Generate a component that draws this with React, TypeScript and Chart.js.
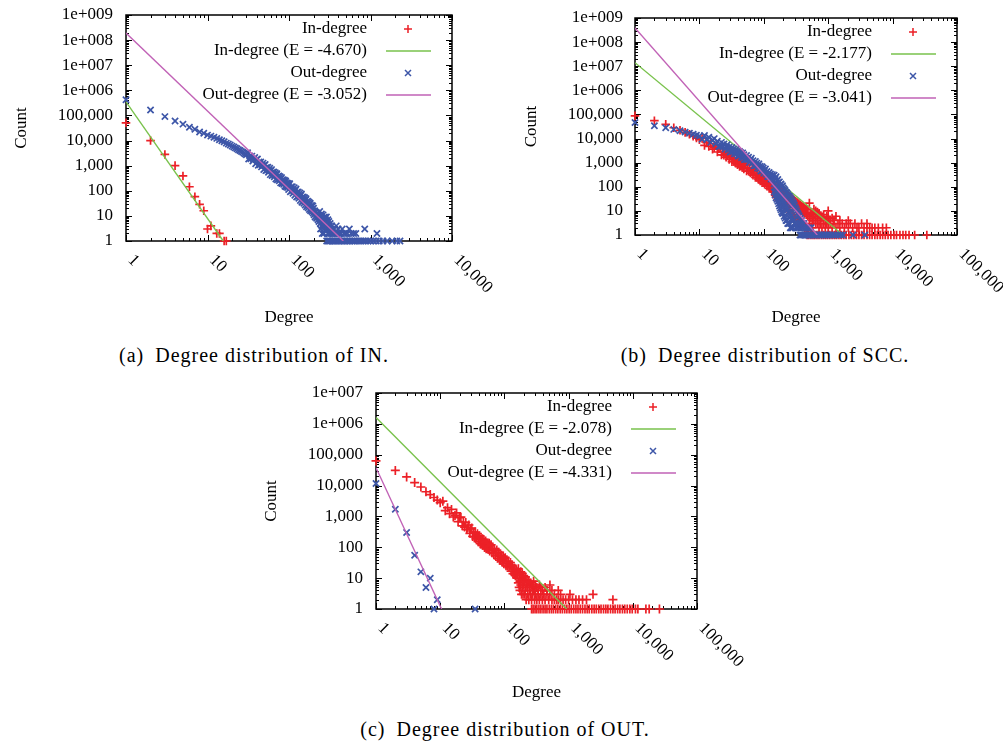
import React, { useEffect, useRef } from 'react';
import { Chart, registerables } from 'chart.js';

Chart.register(...registerables);

const SERIF = '"Liberation Serif", "Times New Roman", Times, serif';
const FS = 17;
const RED = '#ec2027';
const BLUE = '#3d56a8';
const GREEN = '#79c24c';
const PURPLE = '#c162b6';

// ---------- tick labels ----------
const yLabels9 = ['1', '10', '100', '1,000', '10,000', '100,000', '1e+006', '1e+007', '1e+008', '1e+009'];
const yLabels7 = ['1', '10', '100', '1,000', '10,000', '100,000', '1e+006', '1e+007'];
const xLabels4 = ['1', '10', '100', '1,000', '10,000'];
const xLabels5 = ['1', '10', '100', '1,000', '10,000', '100,000'];
const seriesLabels = ['In-degree', 'Out-degree'];

// ================= (a) IN =================  [degree, count]
const aIn = [[1, 51000], [2, 10000], [3, 2800], [4, 1000], [5, 390], [6, 145], [7, 58], [8, 29], [9, 16], [10, 3], [11, 4], [13, 2], [14, 2], [16, 1], [17, 1]];
const aInFit = [[1, 350000], [15.6, 1]];
const aInExp = '-4.670';

const aOutHead = [[1, 420000], [2, 165000], [3, 90000], [4, 60000], [5, 45000], [6, 34000], [7, 28000], [8, 22000], [9, 19500], [10, 16500], [11, 15000], [12, 13500], [13, 12200], [14, 10800], [15, 9800], [16, 8900], [17, 7900], [18, 7300], [19, 6600], [20, 6000], [21, 5500], [22, 5100], [23, 4700], [24, 4300], [25, 4000], [26, 3700], [27, 3450], [28, 3150], [29, 2950], [30, 2700]];
const aOutBand = [[31, 3280], [32, 1850], [33, 2445], [34, 1880], [35, 2400], [36, 1525], [37, 1760], [38, 2130], [39, 1185], [40, 1725],
  [41, 1842], [42, 1046], [43, 1398], [44, 1085], [45, 1397], [46, 893], [47, 1037], [48, 1265], [49, 707], [50, 1035],
  [51, 1112], [52, 634], [53, 850], [54, 663], [55, 858], [56, 549], [57, 640], [58, 783], [59, 439], [60, 644],
  [61, 698], [62, 402], [63, 546], [64, 429], [65, 559], [66, 362], [67, 425], [68, 524], [69, 296], [70, 437],
  [71, 476], [72, 275], [73, 373], [74, 294], [75, 386], [76, 250], [77, 294], [78, 364], [79, 206], [80, 305],
  [81, 334], [82, 194], [83, 265], [84, 210], [85, 276], [86, 180], [87, 213], [88, 265], [89, 151], [90, 224],
  [91, 246], [92, 143], [93, 196], [94, 156], [95, 205], [96, 134], [97, 158], [98, 197], [99, 112], [100, 167],
  [102, 192], [104, 91], [106, 143], [108, 99], [110, 146], [112, 80], [114, 101], [116, 131], [118, 66], [120, 106],
  [122, 118], [124, 56], [126, 87], [128, 61], [130, 90], [132, 50], [134, 63], [136, 81], [138, 41], [140, 66],
  [142, 74], [144, 35], [146, 55], [148, 39], [150, 57], [152, 32], [154, 41], [156, 53], [158, 27], [160, 43],
  [162, 48], [164, 23], [166, 36], [168, 26], [170, 38], [172, 21], [174, 27], [176, 35], [178, 18], [180, 29],
  [182, 32], [184, 16], [186, 25], [188, 18], [190, 26], [192, 15], [194, 19], [196, 25], [198, 13], [200, 20]];
const aOutTail = [[203, 11], [206, 16], [209, 9], [212, 14], [215, 10], [218, 8], [221, 13], [224, 9], [227, 7], [230, 11], [233, 6], [236, 9], [238, 15], [239, 8], [242, 5], [244, 3], [245, 10], [248, 7], [250, 12], [251, 6], [254, 4], [256, 2], [257, 8], [260, 5], [262, 11], [263, 7], [266, 3], [268, 2], [269, 6], [272, 9], [275, 4], [276, 8], [278, 5], [281, 7], [284, 3], [287, 4], [288, 9], [290, 6], [293, 3], [296, 5], [299, 2], [300, 7], [302, 4], [305, 3], [308, 6], [311, 2], [314, 4], [317, 3], [320, 5], [325, 2], [330, 3], [335, 4], [340, 2], [345, 3], [350, 2], [360, 3], [370, 2], [380, 4], [390, 2], [400, 3], [410, 2], [430, 2], [450, 3], [470, 2], [490, 2], [520, 2], [550, 3], [580, 2], [620, 2], [660, 2], [850, 3], [1200, 2]];
const aOutOnes = [290, 300, 310, 320, 335, 350, 365, 380, 395, 410, 430, 450, 470, 490, 510, 535, 560, 590, 620, 650, 690, 730, 770, 820, 870, 930, 1000, 1080, 1170, 1280, 1420, 1600, 1850, 2100, 2300];
const aOutFit = [[1, 190000000], [464, 1]];
const aOutExp = '-3.052';

// ================= (b) SCC =================
const bInHead = [[1, 87000], [2, 55000], [3, 39000], [4, 28000], [5, 22000], [6, 18000], [7, 15000], [8, 12500], [9, 10500], [10, 9000]];
const bInBand = [[11, 10190], [12, 5180], [13, 6765], [14, 4696], [15, 6250], [16, 3644], [17, 4175], [18, 4998], [19, 2775], [20, 3795],
  [21, 3947], [22, 2103], [23, 2858], [24, 2054], [25, 2816], [26, 1686], [27, 1975], [28, 2413], [29, 1363], [30, 1898],
  [31, 2027], [32, 1106], [33, 1537], [34, 1128], [35, 1578], [36, 962], [37, 1146], [38, 1422], [39, 815], [40, 1150],
  [41, 1247], [42, 690], [43, 972], [44, 723], [45, 1023], [46, 631], [47, 760], [48, 954], [49, 552], [50, 787],
  [52, 832], [54, 450], [56, 617], [58, 446], [60, 616], [62, 371], [64, 437], [66, 537], [68, 305], [70, 426],
  [72, 452], [74, 246], [76, 340], [78, 248], [80, 346], [82, 210], [84, 249], [86, 307], [88, 176], [90, 246],
  [92, 265], [94, 146], [96, 205], [98, 151], [100, 213], [103, 128], [106, 151], [109, 185], [112, 105], [115, 146],
  [118, 157], [121, 86], [124, 120], [127, 88], [130, 124], [133, 76], [136, 90], [140, 110]];
const bInCloud = [[145, 60], [145, 150], [150, 45], [150, 110], [155, 70], [155, 38], [160, 65], [160, 120], [160, 35], [170, 50], [170, 95], [170, 28], [180, 45], [180, 80], [180, 24], [190, 38], [190, 70], [190, 20], [200, 40], [200, 65], [200, 18], [212, 30], [212, 55], [212, 15], [225, 31], [225, 50], [225, 13], [238, 25], [238, 45], [238, 11], [250, 22], [250, 40], [250, 10], [265, 20], [265, 35], [265, 8], [280, 18], [280, 32], [280, 7], [295, 16], [295, 28], [295, 6], [310, 15], [310, 25], [310, 5], [330, 13], [330, 22], [330, 4], [350, 12], [350, 20], [350, 4], [370, 11], [370, 18], [370, 3], [390, 10], [390, 16], [390, 3], [410, 9], [410, 14], [410, 3], [430, 8], [430, 13], [430, 2], [455, 7], [455, 12], [455, 2], [480, 6], [480, 11], [480, 2], [510, 6], [510, 21], [510, 3], [540, 5], [540, 9], [540, 2], [570, 4], [570, 8], [570, 2], [600, 4], [600, 7], [600, 12], [640, 3], [640, 6], [640, 10], [680, 3], [680, 5], [680, 9], [720, 2], [720, 4], [720, 8], [760, 3], [760, 6], [800, 2], [800, 5], [850, 3], [850, 7], [900, 2], [900, 4], [950, 3], [950, 6], [1000, 2], [1000, 5], [1000, 10], [1070, 3], [1070, 4], [1150, 2], [1150, 5], [1230, 3], [1230, 4], [1320, 2], [1320, 6], [1420, 3], [1520, 2], [1520, 4], [1650, 3], [1780, 2], [1900, 3], [2050, 2], [2050, 4], [2200, 3], [2400, 2], [2600, 3], [2800, 2], [3000, 2], [3300, 3], [3600, 2], [4000, 2], [4000, 3], [4400, 2], [4800, 2], [5300, 2], [6000, 2], [7000, 2], [8000, 2]];
const bInOnes = [470, 500, 540, 580, 620, 670, 720, 780, 840, 910, 980, 1060, 1150, 1250, 1350, 1470, 1600, 1750, 1900, 2100, 2300, 2500, 2750, 3000, 3300, 3600, 4000, 4400, 4800, 5300, 5800, 6400, 7000, 7700, 8500, 9400, 10500, 11500, 13000, 14500, 16000, 18000, 22000, 34000];
const bInFit = [[1, 14000000], [1700, 1]];
const bInExp = '-2.177';

const bOutHead = [[1, 46000], [2, 34000], [3, 28000], [4, 24000], [5, 21000], [6, 18500], [7, 16500], [8, 15000], [9, 13800], [10, 12700]];
const bOutBand = [[11, 9344], [12, 13525], [13, 9072], [14, 11328], [15, 6942], [16, 8649], [17, 9953], [18, 6078], [19, 7705], [20, 4725],
  [21, 4728], [22, 6950], [23, 4720], [24, 5954], [25, 3669], [26, 4690], [27, 5528], [28, 3446], [29, 4453], [30, 2775],
  [31, 2830], [32, 4238], [33, 2925], [34, 3745], [35, 2340], [36, 3032], [37, 3615], [38, 2280], [39, 2977], [40, 1875],
  [41, 1928], [42, 2906], [43, 2020], [44, 2603], [45, 1636], [46, 2132], [47, 2556], [48, 1619], [49, 2125], [50, 1345],
  [52, 1353], [54, 2000], [56, 1348], [58, 1687], [60, 1031], [62, 1308], [64, 1529], [66, 946], [68, 1212], [70, 750],
  [72, 754], [74, 1115], [76, 760], [78, 960], [80, 593], [82, 758], [84, 893], [86, 557], [88, 718], [90, 447],
  [92, 456], [94, 681], [96, 470], [98, 600], [100, 374], [103, 473], [106, 549], [109, 337], [112, 431], [115, 265],
  [118, 267], [121, 395], [124, 270], [127, 341], [130, 211], [133, 270], [136, 319], [140, 196]];
const bOutCloud = [[145, 300], [145, 130], [145, 60], [150, 220], [150, 100], [150, 45], [155, 260], [155, 90], [155, 35], [160, 180], [160, 75], [160, 30], [165, 200], [165, 60], [165, 25], [170, 150], [170, 55], [170, 20], [175, 160], [175, 45], [175, 16], [180, 120], [180, 40], [180, 13], [185, 130], [185, 35], [185, 11], [190, 100], [190, 30], [190, 9], [195, 110], [195, 25], [195, 8], [200, 90], [200, 28], [200, 8], [207, 80], [207, 22], [207, 6], [214, 70], [214, 18], [214, 5], [221, 60], [221, 15], [221, 4], [228, 55], [228, 13], [228, 4], [235, 48], [235, 11], [235, 3], [242, 42], [242, 9], [242, 3], [250, 40], [250, 8], [250, 3], [258, 35], [258, 7], [258, 2], [266, 30], [266, 6], [266, 2], [274, 26], [274, 5], [274, 2], [282, 22], [282, 4], [282, 2], [290, 20], [290, 4], [298, 17], [298, 3], [306, 14], [306, 3], [315, 12], [315, 2], [325, 10], [325, 2], [335, 8], [335, 3], [345, 7], [345, 2], [355, 6], [355, 2], [370, 5], [370, 3], [385, 4], [385, 2], [400, 3], [400, 2], [420, 3], [440, 2], [470, 2], [500, 2], [540, 2]];
const bOutOnes = [365, 380, 400, 420, 440, 460, 480, 500, 525, 550, 580, 610, 640, 680, 720, 760, 800, 850, 900, 960, 1020, 1100, 1200, 1300, 1420, 1550, 1700, 2430, 3700];
const bOutFit = [[1, 390000000], [675, 1]];
const bOutExp = '-3.041';

// ================= (c) OUT =================
const cInHead = [[1, 63000], [2, 31000], [3, 19000], [4, 12500], [5, 9000], [6, 6300], [7, 5100], [8, 4100], [9, 3400], [10, 2800]];
const cInBand = [[11, 3120], [12, 1538], [13, 1925], [14, 1230], [15, 1688], [16, 960], [17, 1080], [18, 1294], [19, 676], [20, 920],
  [21, 943], [22, 495], [23, 660], [24, 451], [25, 635], [26, 376], [27, 433], [28, 528], [29, 283], [30, 397],
  [31, 419], [32, 225], [33, 308], [34, 216], [35, 311], [36, 188], [37, 222], [38, 277], [39, 152], [40, 219],
  [41, 237], [42, 131], [43, 183], [44, 130], [45, 188], [46, 116], [47, 140], [48, 177], [49, 98], [50, 144],
  [51, 159], [52, 89], [53, 128], [54, 93], [55, 138], [56, 86], [57, 105], [58, 135], [59, 76], [60, 113],
  [62, 121], [64, 66], [66, 90], [68, 63], [70, 90], [72, 54], [74, 65], [76, 81], [78, 44], [80, 63],
  [82, 69], [84, 38], [86, 53], [88, 38], [90, 55], [92, 34], [94, 41], [96, 52], [98, 29], [100, 43],
  [103, 46], [106, 25], [109, 35], [112, 25], [115, 36], [118, 22], [121, 26], [124, 32], [127, 17], [130, 25],
  [133, 26], [136, 14], [139, 20], [142, 14], [145, 21], [148, 12], [151, 15], [154, 18], [157, 10], [160, 14]];
const cInCloud = [[165, 20], [165, 7], [170, 15], [170, 5], [175, 12], [175, 8], [175, 4], [180, 16], [180, 6], [185, 10], [185, 3], [190, 14], [190, 5], [195, 9], [195, 3], [200, 12], [200, 6], [206, 8], [206, 3], [212, 11], [212, 4], [218, 7], [218, 2], [225, 9], [225, 5], [232, 6], [232, 3], [240, 8], [240, 2], [248, 5], [248, 4], [256, 7], [256, 3], [265, 6], [265, 2], [275, 5], [275, 3], [285, 8], [285, 4], [295, 4], [295, 2], [305, 6], [305, 3], [320, 5], [320, 2], [335, 4], [335, 3], [350, 6], [350, 2], [370, 3], [370, 5], [390, 4], [390, 2], [410, 3], [430, 5], [430, 2], [460, 4], [460, 3], [490, 2], [512, 6], [512, 3], [550, 2], [550, 4], [600, 3], [600, 2], [650, 2], [690, 4], [690, 2], [750, 2], [750, 3], [820, 2], [900, 2], [1000, 2], [1050, 3], [1150, 2], [1300, 2], [1450, 2], [1650, 2], [1900, 2], [2400, 3], [4900, 2]];
const cInOnes = [265, 280, 300, 320, 345, 370, 400, 430, 460, 500, 540, 580, 630, 680, 740, 800, 870, 940, 1020, 1100, 1200, 1300, 1400, 1520, 1650, 1800, 1950, 2100, 2300, 2500, 2700, 2950, 3200, 3500, 3800, 4100, 4500, 4900, 5300, 5800, 6300, 6900, 7500, 8200, 9000, 9800, 11000, 12000, 16000, 18000, 26000];
const cInFit = [[1, 1600000], [935, 1]];
const cInExp = '-2.078';

const cOut = [[1, 11700], [2, 1700], [3, 300], [4, 55], [5, 16], [6, 5], [7, 10], [8, 1], [9, 2], [35, 1]];
const cOutFit = [[1, 38000], [10.5, 1]];
const cOutExp = '-4.331';

// ---------- helpers ----------
const P = (arr: number[][]) => arr.map(([x, y]) => ({ x, y }));
const ones = (xs: number[]) => xs.map((x) => ({ x, y: 1 }));

function scatterSet(label: string, data: any[], color: string, style: string, radius: number, order: number) {
  return {
    label, data, showLine: false,
    pointStyle: style, pointRadius: radius, pointHoverRadius: radius,
    pointBorderColor: color, pointBackgroundColor: color, pointBorderWidth: 1.7,
    borderColor: color, backgroundColor: color, clip: false, order,
  };
}
function lineSet(label: string, data: any[], color: string, order: number) {
  return {
    label, data, showLine: true, borderColor: color, backgroundColor: color,
    borderWidth: 1.4, pointRadius: 0, pointHoverRadius: 0, order,
  };
}

type Spec = {
  left: number; top: number; w: number; h: number;
  padTop: number; padRight: number; yAxisW: number; xAxisH: number;
  yLabelPad: number; countPad: number; degreePad: number;
  yLabels: string[]; xLabels: string[];
  datasets: any[];
  caption: string; capX: number; capY: number;
};

function makeConfig(spec: Spec): any {
  const font = { family: SERIF, size: FS };
  const yMaxExp = spec.yLabels.length - 1;
  const xMaxExp = spec.xLabels.length - 1;

  const framePlugin = {
    id: 'gnuFrame',
    beforeDatasetsDraw(chart: any) {
      const { ctx, chartArea } = chart;
      const { left, right, top, bottom } = chartArea;
      const xs = chart.scales.x;
      const ys = chart.scales.y;
      ctx.save();
      ctx.strokeStyle = '#000';
      ctx.lineWidth = 1;
      ctx.beginPath();
      for (let e = 0; e <= yMaxExp; e++) {
        for (let m = 1; m <= 9; m++) {
          if (e === yMaxExp && m > 1) break;
          const py = Math.round(ys.getPixelForValue(m * 10 ** e)) + 0.5;
          const len = m === 1 ? 6 : 3;
          ctx.moveTo(left, py); ctx.lineTo(left + len, py);
          ctx.moveTo(right, py); ctx.lineTo(right - len, py);
        }
      }
      for (let e = 0; e <= xMaxExp; e++) {
        for (let m = 1; m <= 9; m++) {
          if (e === xMaxExp && m > 1) break;
          const px = Math.round(xs.getPixelForValue(m * 10 ** e)) + 0.5;
          const len = m === 1 ? 6 : 3;
          ctx.moveTo(px, bottom); ctx.lineTo(px, bottom - len);
          ctx.moveTo(px, top); ctx.lineTo(px, top + len);
        }
      }
      ctx.stroke();
      ctx.lineWidth = 1.5;
      ctx.strokeRect(left, top, right - left, bottom - top);
      ctx.restore();
    },
    afterDraw(chart: any) {
      const { ctx, chartArea } = chart;
      const { right, top, bottom } = chartArea;
      const xs = chart.scales.x;
      ctx.save();
      ctx.fillStyle = '#000';
      ctx.font = `${FS}px ${SERIF}`;
      ctx.textAlign = 'left';
      ctx.textBaseline = 'middle';
      spec.xLabels.forEach((lab, i) => {
        const px = xs.getPixelForValue(10 ** i);
        ctx.save();
        ctx.translate(px + 4.5, bottom + 16.5);
        ctx.rotate(Math.PI / 4);
        ctx.fillText(lab, 0, 0);
        ctx.restore();
      });
      chart.data.datasets.forEach((ds: any, i: number) => {
        const y = top + 14 + i * 22;
        ctx.fillStyle = '#000';
        ctx.textAlign = 'right';
        ctx.fillText(ds.label, right - 85, y);
        ctx.strokeStyle = ds.borderColor;
        if (ds.showLine) {
          ctx.lineWidth = 1.6;
          ctx.beginPath();
          ctx.moveTo(right - 66, y);
          ctx.lineTo(right - 21, y);
          ctx.stroke();
        } else {
          const cx = right - 44;
          ctx.lineWidth = 1.5;
          ctx.beginPath();
          if (ds.pointStyle === 'cross') {
            ctx.moveTo(cx - 4, y); ctx.lineTo(cx + 4, y);
            ctx.moveTo(cx, y - 4); ctx.lineTo(cx, y + 4);
          } else {
            ctx.moveTo(cx - 3, y - 3); ctx.lineTo(cx + 3, y + 3);
            ctx.moveTo(cx - 3, y + 3); ctx.lineTo(cx + 3, y - 3);
          }
          ctx.stroke();
        }
      });
      ctx.restore();
    },
  };

  return {
    type: 'scatter',
    data: { datasets: spec.datasets },
    options: {
      responsive: false,
      maintainAspectRatio: false,
      animation: false,
      devicePixelRatio: 1,
      events: [],
      layout: { padding: { top: spec.padTop, right: spec.padRight, left: 0, bottom: 0 } },
      plugins: { legend: { display: false }, tooltip: { enabled: false }, title: { display: false } },
      scales: {
        x: {
          type: 'logarithmic', position: 'bottom', min: 1, max: 10 ** xMaxExp,
          afterBuildTicks: (s: any) => { s.ticks = spec.xLabels.map((_, i) => ({ value: 10 ** i })); },
          afterFit: (s: any) => { s.height = spec.xAxisH; s.paddingLeft = 0; s.paddingRight = 0; },
          ticks: { display: false },
          grid: { display: false, drawTicks: false },
          border: { display: false },
          title: { display: true, text: 'Degree', font, color: '#000', padding: { top: 0, bottom: spec.degreePad } },
        },
        y: {
          type: 'logarithmic', position: 'left', min: 1, max: 10 ** yMaxExp,
          afterBuildTicks: (s: any) => { s.ticks = spec.yLabels.map((_, i) => ({ value: 10 ** i })); },
          afterFit: (s: any) => { s.width = spec.yAxisW; s.paddingTop = 0; s.paddingBottom = 0; },
          ticks: {
            autoSkip: false, font, color: '#000', padding: spec.yLabelPad,
            callback: (_v: any, i: number) => spec.yLabels[i],
          },
          grid: { display: false, drawTicks: false },
          border: { display: false },
          title: { display: true, text: 'Count', font, color: '#000', padding: { top: spec.countPad, bottom: 0 } },
        },
      },
    },
    plugins: [framePlugin],
  };
}

const specA: Spec = {
  left: 0, top: 0, w: 500, h: 340,
  padTop: 15, padRight: 48, yAxisW: 126, xAxisH: 99,
  yLabelPad: 13, countPad: 11.8, degreePad: 11.8,
  yLabels: yLabels9, xLabels: xLabels4,
  datasets: [
    scatterSet(seriesLabels[0], P(aIn), RED, 'cross', 4.3, 4),
    lineSet(`${seriesLabels[0]} (E = ${aInExp})`, P(aInFit), GREEN, 3),
    scatterSet(seriesLabels[1], [...P(aOutHead), ...P(aOutBand), ...P(aOutTail), ...ones(aOutOnes)], BLUE, 'crossRot', 4.4, 2),
    lineSet(`${seriesLabels[1]} (E = ${aOutExp})`, P(aOutFit), PURPLE, 1),
  ],
  caption: '(a)\u2002Degree distribution of IN.', capX: 254, capY: 355,
};

const specB: Spec = {
  left: 500, top: 0, w: 503, h: 340,
  padTop: 18, padRight: 46, yAxisW: 135, xAxisH: 105,
  yLabelPad: 12, countPad: 21.8, degreePad: 11.8,
  yLabels: yLabels9, xLabels: xLabels5,
  datasets: [
    scatterSet(seriesLabels[0], [...P(bInHead), ...P(bInBand), ...P(bInCloud), ...ones(bInOnes)], RED, 'cross', 4.3, 4),
    lineSet(`${seriesLabels[0]} (E = ${bInExp})`, P(bInFit), GREEN, 3),
    scatterSet(seriesLabels[1], [...P(bOutHead), ...P(bOutBand), ...P(bOutCloud), ...ones(bOutOnes)], BLUE, 'crossRot', 4.4, 2),
    lineSet(`${seriesLabels[1]} (E = ${bOutExp})`, P(bOutFit), PURPLE, 1),
  ],
  caption: '(b)\u2002Degree distribution of SCC.', capX: 765, capY: 355,
};

const specC: Spec = {
  left: 240, top: 370, w: 520, h: 340,
  padTop: 23, padRight: 63, yAxisW: 136, xAxisH: 101,
  yLabelPad: 13, countPad: 21.8, degreePad: 6.8,
  yLabels: yLabels7, xLabels: xLabels5,
  datasets: [
    scatterSet(seriesLabels[0], [...P(cInHead), ...P(cInBand), ...P(cInCloud), ...ones(cInOnes)], RED, 'cross', 4.5, 4),
    lineSet(`${seriesLabels[0]} (E = ${cInExp})`, P(cInFit), GREEN, 3),
    scatterSet(seriesLabels[1], P(cOut), BLUE, 'crossRot', 4.4, 2),
    lineSet(`${seriesLabels[1]} (E = ${cOutExp})`, P(cOutFit), PURPLE, 1),
  ],
  caption: '(c)\u2002Degree distribution of OUT.', capX: 505, capY: 729,
};

function Panel({ spec }: { spec: Spec }) {
  const ref = useRef<HTMLCanvasElement | null>(null);
  useEffect(() => {
    if (!ref.current) return;
    const chart = new Chart(ref.current, makeConfig(spec));
    return () => chart.destroy();
  }, [spec]);
  return (
    <>
      <canvas
        ref={ref}
        width={spec.w}
        height={spec.h}
        style={{ position: 'absolute', left: spec.left, top: spec.top, width: spec.w, height: spec.h }}
      />
      <div
        style={{
          position: 'absolute', left: spec.capX - 200, top: spec.capY - 12, width: 400,
          textAlign: 'center', fontFamily: SERIF, fontSize: 20, lineHeight: '24px',
          letterSpacing: '1px', color: '#000', whiteSpace: 'pre',
        }}
      >
        {spec.caption}
      </div>
    </>
  );
}

export default function App() {
  return (
    <div style={{ position: 'absolute', left: 0, top: 0, width: 1003, height: 742, background: '#fff', overflow: 'hidden' }}>
      <Panel spec={specA} />
      <Panel spec={specB} />
      <Panel spec={specC} />
    </div>
  );
}
